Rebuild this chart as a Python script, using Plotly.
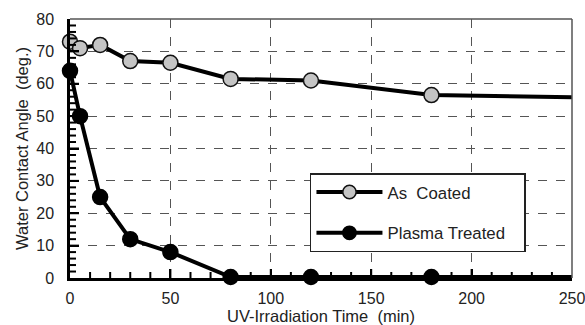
import plotly.graph_objects as go

time_coated = [0, 5, 15, 30, 50, 80, 120, 180, 254]
angle_coated = [73, 71, 72, 67, 66.5, 61.5, 61, 56.5, 55.8]
time_plasma = [0, 5, 15, 30, 50, 80, 120, 180, 254]
angle_plasma = [64, 50, 25, 12, 8, 0.3, 0.3, 0.3, 0.3]
x_ticks = [0, 50, 100, 150, 200, 250]
y_ticks = [0, 10, 20, 30, 40, 50, 60, 70, 80]
x_minor_step = 10
y_minor_step = 2

nbsp = "\u00a0"
msize = [15] * (len(time_coated) - 1) + [0]
FONT = "Liberation Sans, Arial, Helvetica, sans-serif"

fig = go.Figure()
fig.add_trace(go.Scatter(
    x=time_coated, y=angle_coated, mode="lines+markers",
    name="As" + nbsp + nbsp + "Coated", legendgroup="a",
    line=dict(color="black", width=4),
    marker=dict(size=msize, color="#c4c4c4", opacity=1, line=dict(color="#111", width=1.5)),
    cliponaxis=False,
))
fig.add_trace(go.Scatter(
    x=time_plasma, y=angle_plasma, mode="lines+markers",
    name="Plasma Treated" + nbsp * 3, legendgroup="b",
    line=dict(color="black", width=4),
    marker=dict(size=msize, color="#000000", opacity=1, line=dict(color="#000000", width=1.5)),
    cliponaxis=False,
))

# inside tick marks built from the tick arrays
shapes = []
x_minor = list(range(x_ticks[0], x_ticks[-1] + 1, x_minor_step))
y_minor = list(range(y_ticks[0], y_ticks[-1] + 1, y_minor_step))
for v in x_minor:
    if v in (x_ticks[0], x_ticks[-1]):
        continue
    major = v in x_ticks
    shapes.append(dict(type="line", xref="x", yref="paper", ysizemode="pixel", yanchor=0,
                       x0=v, x1=v, y0=0, y1=9 if major else 6, layer="above",
                       line=dict(color="black", width=2)))
for v in y_minor:
    if v in (y_ticks[0], y_ticks[-1]):
        continue
    major = v in y_ticks
    shapes.append(dict(type="line", xref="paper", yref="y", xsizemode="pixel", xanchor=0,
                       x0=0, x1=9 if major else 6, y0=v, y1=v, layer="above",
                       line=dict(color="black", width=2)))
shapes += [
    dict(type="line", xref="paper", yref="paper", x0=0, x1=1, y0=1, y1=1,
         line=dict(color="#555", width=1.5)),
    dict(type="line", xref="paper", yref="paper", x0=1, x1=1, y0=0, y1=1,
         line=dict(color="#555", width=1.5)),
]

tick_font = dict(family=FONT, size=16, color="#222")
title_font = dict(family=FONT, size=16.5, color="#222")
fig.update_layout(
    width=585, height=325,
    margin=dict(l=70, r=13, t=19, b=47),
    paper_bgcolor="white", plot_bgcolor="rgba(0,0,0,0)",
    font=tick_font,
    showlegend=True,
    legend=dict(
        x=0.478, y=0.405, xanchor="left", yanchor="top",
        bordercolor="#222", borderwidth=1.5, bgcolor="white",
        font=dict(family=FONT, size=16.8, color="#222"),
        tracegroupgap=16, traceorder="grouped",
        itemwidth=66,
    ),
    xaxis=dict(
        range=[0, 250], tickvals=x_ticks,
        ticks="inside", ticklen=9, tickwidth=2, tickcolor="black",
        showline=True, linecolor="black", linewidth=2.5,
        showgrid=True, gridcolor="#555", griddash="dash", gridwidth=1,
        zeroline=False, tickfont=tick_font, automargin=False,
        ticklabeloverflow="allow", ticklabelstandoff=4,
        title=dict(text="UV-Irradiation Time" + nbsp + nbsp + "(min)", standoff=0, font=title_font),
    ),
    yaxis=dict(
        range=[0, 80], tickvals=y_ticks,
        ticks="inside", ticklen=9, tickwidth=2, tickcolor="black",
        showline=True, linecolor="black", linewidth=2.5,
        showgrid=True, gridcolor="#555", griddash="dash", gridwidth=1,
        zeroline=False, tickfont=tick_font, automargin=False,
        ticklabelstandoff=10,
        title=dict(text="Water Contact Angle" + nbsp + nbsp + "(deg.)", standoff=4, font=title_font),
    ),
    shapes=shapes,
)

fig.write_html("out.html")
